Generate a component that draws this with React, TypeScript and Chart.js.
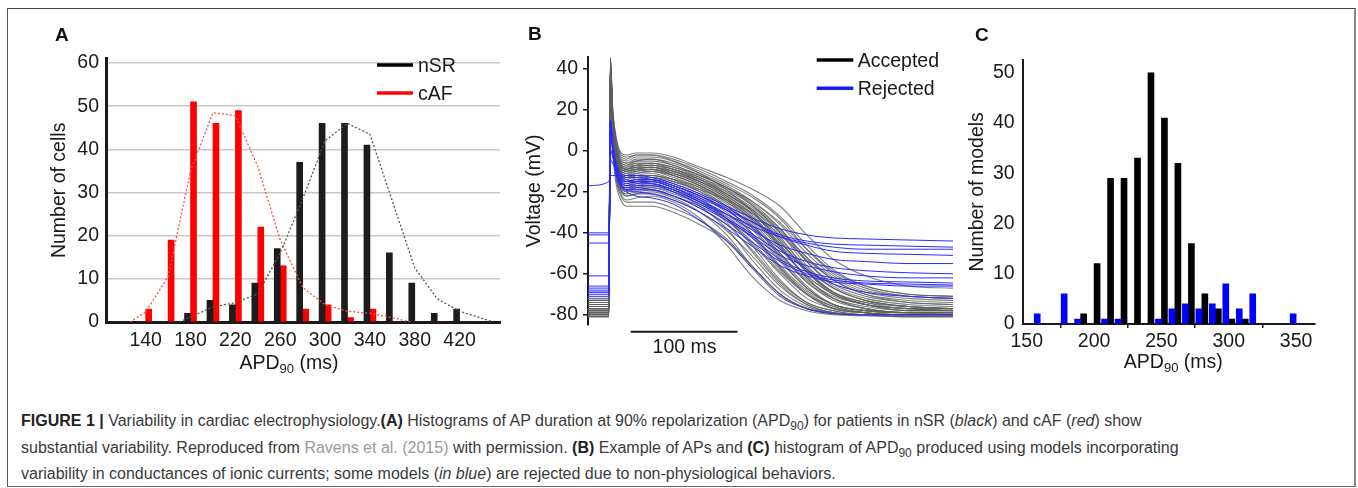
import React, { useEffect, useRef } from "react";
import { Chart, registerables } from "chart.js";

Chart.register(...registerables);

const FONT = "'Liberation Sans', Arial, Helvetica, sans-serif";
const INK = "#1a1a1a";
const FS = 19.5;

// ---------- Panel A: patient APD90 histograms ----------
const binsA = [140, 160, 180, 200, 220, 240, 260, 280, 300, 320, 340, 360, 380, 400, 420];
const nsrCounts = [0, 0, 2, 5, 4, 9, 17, 37, 46, 46, 41, 16, 9, 2, 3];
const cafCounts = [3, 19, 51, 46, 49, 22, 13, 3, 4, 1, 3, 0, 0, 0, 0];
const nsrFitX = [170, 180, 200, 220, 240, 260, 280, 300, 320, 340, 360, 380, 400, 420, 450];
const nsrFitY = [0, 1.2, 3.5, 4.5, 6.5, 16, 28.5, 42, 46, 43.5, 28, 12.5, 5.4, 2.5, 0];
const cafFitX = [126, 140, 160, 180, 200, 220, 240, 260, 280, 300, 320, 340, 360, 376];
const cafFitY = [0, 2.3, 10.5, 35, 48.5, 47.8, 36, 19, 8, 4, 2.5, 2, 1, 0];
const xTicksA = [140, 180, 220, 260, 300, 340, 380, 420];
const yTicksA = [0, 10, 20, 30, 40, 50, 60];

// ---------- Panel B: action potential traces ----------
const apTimes = [0, 19.5, 21, 23, 26, 30, 36, 45, 60, 80, 105, 130, 155, 180, 205, 230, 260, 300, 342];
const acceptedTraces = [
  [-72, -72, 46, 22, 8, 0, -2, -1, -1, -3, -8, -13, -19, -27, -41, -53, -61, -66, -67],
  [-73, -73, 44, 20, 5, -3, -5, -3, -3, -5, -10, -16, -23, -33, -48, -60, -67, -71, -72],
  [-74, -74, 43, 18, 3, -5, -7, -5, -4, -7, -12, -18, -26, -38, -54, -66, -72, -75, -76],
  [-75, -75, 42, 17, 2, -6, -8, -6, -6, -8, -13, -20, -29, -42, -58, -69, -75, -77, -78],
  [-76, -76, 41, 15, 0, -8, -10, -8, -7, -10, -15, -22, -32, -47, -62, -72, -77, -79, -79],
  [-77, -77, 40, 14, -2, -10, -12, -10, -9, -12, -17, -25, -36, -52, -66, -75, -78, -79, -80],
  [-78, -78, 39, 12, -4, -12, -14, -12, -11, -14, -20, -28, -41, -57, -70, -77, -79, -80, -80],
  [-79, -79, 38, 10, -6, -14, -17, -15, -14, -17, -23, -33, -47, -63, -74, -78, -80, -80, -80],
  [-80, -80, 37, 8, -9, -17, -20, -18, -17, -20, -27, -38, -54, -68, -76, -79, -80, -80, -80],
  [-81, -81, 36, 5, -12, -20, -24, -23, -22, -25, -33, -46, -62, -73, -78, -80, -80.5, -81, -81],
  [-80, -80, 35, 3, -15, -23, -27, -27, -27, -30, -36, -44, -57, -70, -77, -79, -80, -80, -80],
  [-74, -74, 45, 21, 6, -2, -4, -2, -2, -5, -11, -19, -30, -46, -62, -72, -77, -79, -79],
  [-78, -78, 40, 13, -3, -11, -13, -12, -12, -15, -19, -24, -31, -41, -53, -63, -70, -74, -75],
  [-77, -77, 41, 14, -1, -9, -11, -9, -8, -11, -16, -23, -33, -45, -58, -67, -73, -76, -77],
  [-79, -79, 38, 9, -7, -15, -18, -16, -15, -18, -24, -33, -45, -59, -70, -76, -79, -80, -80],
  [-76, -76, 42, 16, 1, -7, -9, -7, -6, -9, -14, -21, -30, -43, -57, -67, -73, -76, -77],
  [-75, -75, 43, 17, 2, -6, -8, -7, -7, -9, -13, -19, -27, -38, -52, -63, -70, -73, -74],
  [-80, -80, 37, 7, -10, -18, -21, -20, -19, -22, -28, -36, -49, -64, -74, -78, -80, -80, -80],
  [-78, -78, 39, 11, -5, -13, -15, -14, -13, -16, -21, -29, -39, -54, -67, -75, -78, -79, -79],
  [-77, -77, 40, 13, -2, -10, -12, -11, -10, -13, -18, -26, -37, -50, -63, -71, -75, -77, -78],
  [-79, -79, 38, 10, -8, -16, -19, -17, -16, -19, -25, -35, -50, -65, -75, -79, -80, -80, -80],
  [-76, -76, 41, 15, 0, -8, -10, -9, -8, -11, -15, -21, -29, -40, -54, -65, -71, -74, -75],
  [-73, -73, 44, 19, 4, -4, -6, -4, -4, -6, -11, -17, -25, -36, -50, -61, -68, -71, -72],
  [-81, -81, 36, 6, -11, -19, -22, -21, -20, -23, -30, -41, -57, -70, -77, -79, -80, -81, -81],
  [-79, -79, 39, 12, -4, -12, -15, -13, -12, -14, -19, -27, -38, -53, -67, -75, -78, -79, -79],
  [-75, -75, 42, 16, 1, -7, -9, -8, -8, -10, -15, -22, -31, -44, -59, -69, -74, -76, -77],
  [-80, -80, 37, 8, -8, -16, -19, -18, -18, -21, -26, -34, -46, -60, -72, -77, -79, -80, -80],
  [-77, -77, 40, 13, -3, -11, -13, -11, -10, -12, -17, -24, -34, -48, -61, -70, -75, -78, -78],
  [-74, -74, 44, 19, 4, -4, -6, -5, -5, -7, -12, -18, -27, -40, -56, -67, -73, -76, -77],
  [-76, -76, 42, 16, 1, -7, -9, -8, -8, -10, -14, -20, -28, -39, -52, -62, -69, -72, -73],
  [-78, -78, 40, 12, -3, -11, -13, -13, -13, -15, -20, -27, -37, -51, -64, -72, -76, -78, -78],
  [-79, -79, 38, 10, -7, -15, -18, -17, -17, -19, -24, -31, -42, -57, -69, -76, -79, -80, -80],
  [-77, -77, 41, 14, -1, -9, -11, -10, -9, -12, -17, -24, -35, -50, -64, -73, -77, -79, -79],
  [-75, -75, 43, 18, 3, -5, -7, -6, -6, -8, -12, -18, -25, -35, -48, -59, -66, -70, -71],
  [-80, -80, 36, 6, -10, -18, -22, -21, -21, -24, -30, -39, -52, -66, -75, -79, -80, -80, -80],
  [-78, -78, 39, 11, -5, -13, -16, -15, -14, -17, -22, -30, -41, -56, -68, -75, -78, -79, -79],
  [-76, -76, 41, 15, 0, -8, -10, -9, -9, -11, -16, -23, -33, -47, -61, -70, -75, -77, -78],
  [-79, -79, 37, 9, -8, -16, -19, -19, -18, -20, -25, -32, -43, -58, -70, -77, -79, -80, -80],
  [-73, -73, 45, 21, 7, -1, -3, -2, -2, -4, -9, -15, -22, -32, -46, -58, -66, -70, -71],
  [-81, -81, 35, 4, -13, -21, -25, -25, -25, -28, -34, -43, -57, -70, -77, -79.5, -80, -81, -81],
  [-77, -77, 40, 13, -2, -10, -13, -12, -12, -14, -18, -25, -34, -46, -59, -69, -74, -77, -77],
  [-75, -75, 42, 16, 2, -6, -9, -7, -7, -9, -14, -21, -30, -44, -59, -70, -75, -78, -78],
];
const rejectedTraces = [
  [-40, -40, 15, 5, -5, -10, -12, -12, -13, -16, -21, -27, -33, -38, -41, -42.5, -43, -43.5, -44],
  [-41, -41, -4, -6, -9, -12, -14, -15, -15, -18, -23, -29, -35, -41, -44, -45.5, -46, -46.5, -47],
  [-45, -45, 1, -3, -8, -12, -15, -15, -16, -19, -25, -31, -37, -42, -45, -47, -48, -48, -48],
  [-61, -61, 14, 3, -6, -12, -15, -14, -14, -17, -22, -28, -35, -42, -46, -49, -50, -50.5, -51],
  [-66, -66, 15, 4, -7, -13, -16, -15, -15, -18, -24, -31, -39, -46, -50, -53, -54, -55, -55],
  [-67, -67, 13, 2, -8, -14, -17, -17, -17, -20, -26, -33, -41, -49, -54, -57, -58.5, -59.5, -60],
  [-68, -68, 12, 1, -9, -15, -18, -18, -19, -22, -27, -34, -42, -51, -56, -59, -61, -62, -62],
  [-69, -69, 14, 2, -8, -14, -17, -16, -16, -19, -25, -33, -43, -53, -59, -62, -63.5, -64, -64.5],
  [-70, -70, 11, 0, -10, -16, -19, -19, -19, -22, -28, -36, -45, -54, -60, -63, -64.5, -65, -65.5],
  [-71, -71, 15, 3, -8, -15, -19, -20, -21, -24, -30, -38, -47, -56, -61, -64, -65, -66, -66],
  [-69, -69, 15, 2, -10, -17, -20, -22, -23, -26, -34, -44, -58, -71, -77, -79.5, -80, -80, -80],
  [-17, -15, -12, -12, -12, -12, -13, -13, -14, -17, -22, -29, -38, -48, -58, -65, -69, -71, -72],
];
const voltageTicks = [40, 20, 0, -20, -40, -60, -80];
const scaleBarStart = 40;
const scaleBarLength = 100;

// ---------- Panel C: model APD90 histograms ----------
const acceptedBins = [190, 200, 210, 220, 230, 240, 250, 260, 270, 280, 290, 300, 310];
const acceptedCounts = [2, 12, 29, 29, 33, 50, 41, 32, 16, 6, 3, 1, 1];
const rejectedBins = [160, 180, 190, 210, 220, 250, 260, 270, 280, 290, 300, 310, 320, 350];
const rejectedCounts = [2, 6, 1, 1, 1, 1, 3, 4, 3, 4, 8, 3, 6, 2];
const xTicksC = [150, 200, 250, 300, 350];
const yTicksC = [0, 10, 20, 30, 40, 50];

Chart.defaults.font.family = FONT;
Chart.defaults.color = INK;

function pts(xs: number[], ys: number[]) {
  return xs.map((x, i) => ({ x, y: ys[i] }));
}

function drawApdTitle(ctx: CanvasRenderingContext2D, cx: number, baseline: number) {
  const big = `${FS}px ${FONT}`;
  const small = `13px ${FONT}`;
  ctx.save();
  ctx.fillStyle = INK;
  ctx.textAlign = "left";
  ctx.textBaseline = "alphabetic";
  ctx.font = big;
  const w1 = ctx.measureText("APD").width;
  const w3 = ctx.measureText(" (ms)").width;
  ctx.font = small;
  const w2 = ctx.measureText("90").width;
  let x = cx - (w1 + w2 + w3) / 2;
  ctx.font = big;
  ctx.fillText("APD", x, baseline);
  x += w1;
  ctx.font = small;
  ctx.fillText("90", x, baseline + 4);
  x += w2;
  ctx.font = big;
  ctx.fillText(" (ms)", x, baseline);
  ctx.restore();
}

function drawLegend(
  ctx: CanvasRenderingContext2D,
  items: { label: string; color: string; y: number }[],
  x0: number,
  x1: number,
  tx: number
) {
  ctx.save();
  ctx.font = `${FS}px ${FONT}`;
  ctx.textBaseline = "alphabetic";
  ctx.textAlign = "left";
  for (const it of items) {
    ctx.strokeStyle = it.color;
    ctx.lineWidth = 3.5;
    ctx.beginPath();
    ctx.moveTo(x0, it.y);
    ctx.lineTo(x1, it.y);
    ctx.stroke();
    ctx.fillStyle = INK;
    ctx.fillText(it.label, tx, it.y + 7);
  }
  ctx.restore();
}

function setTicks(values: number[]) {
  return (scale: any) => {
    scale.ticks = values.map((v) => ({ value: v }));
  };
}

function useChart(ref: React.RefObject<HTMLCanvasElement | null>, make: () => any) {
  useEffect(() => {
    if (!ref.current) return;
    const chart = new Chart(ref.current, make());
    return () => chart.destroy();
  }, []);
}

function configA() {
  return {
    type: "bar",
    data: {
      datasets: [
        {
          type: "line",
          data: pts(nsrFitX, nsrFitY),
          borderColor: "#555555",
          borderWidth: 1.3,
          borderDash: [2, 2],
          pointRadius: 0,
          tension: 0,
          order: 0,
        },
        {
          type: "line",
          data: pts(cafFitX, cafFitY),
          borderColor: "#ff4d4d",
          borderWidth: 1.3,
          borderDash: [2, 2],
          pointRadius: 0,
          tension: 0,
          order: 0,
        },
        {
          type: "bar",
          label: "nSR",
          data: pts(binsA, nsrCounts),
          backgroundColor: "#1c1c1c",
          barThickness: 6,
          order: 1,
        },
        {
          type: "bar",
          label: "cAF",
          data: pts(binsA, cafCounts),
          backgroundColor: "#ff0000",
          barThickness: 6,
          order: 1,
        },
      ],
    },
    options: {
      responsive: false,
      animation: false,
      layout: { padding: { top: 13.9, right: 10, bottom: 0, left: 0 } },
      plugins: { legend: { display: false }, tooltip: { enabled: false } },
      scales: {
        x: {
          type: "linear",
          min: 104.6,
          max: 456,
          offset: false,
          afterBuildTicks: setTicks(xTicksA),
          afterFit: (s: any) => {
            s.height = 58;
          },
          grid: { display: false, drawTicks: false },
          border: { color: INK, width: 3 },
          ticks: { padding: 7, autoSkip: false, maxRotation: 0, color: INK, font: { size: FS } },
        },
        y: {
          min: 0,
          max: 61,
          afterBuildTicks: setTicks(yTicksA),
          afterFit: (s: any) => {
            s.width = 66;
          },
          grid: { color: "#c8c8c8", lineWidth: 1.5, drawTicks: false },
          border: { color: INK, width: 3 },
          ticks: { padding: 7, autoSkip: false, color: INK, font: { size: FS } },
          title: {
            display: true,
            text: "Number of cells",
            color: INK,
            font: { size: FS },
            padding: { top: 8, bottom: 0 },
          },
        },
      },
    },
    plugins: [
      {
        id: "decorA",
        afterDraw(chart: any) {
          const ctx = chart.ctx;
          drawLegend(
            ctx,
            [
              { label: "nSR", color: "#000000", y: 25 },
              { label: "cAF", color: "#ff0000", y: 53 },
            ],
            337,
            373,
            378
          );
          drawApdTitle(ctx, 249, 329);
        },
      },
    ],
  };
}

function configB() {
  const mk = (tr: number[], color: string, width: number, order: number) => ({
    data: pts(apTimes, tr),
    borderColor: color,
    borderWidth: width,
    pointRadius: 0,
    cubicInterpolationMode: "monotone",
    order,
  });
  return {
    type: "line",
    data: {
      datasets: [
        ...rejectedTraces.map((tr) => mk(tr, "#2b2bff", 1, 0)),
        ...acceptedTraces.map((tr) => mk(tr, "rgba(95,95,95,0.8)", 1.1, 1)),
      ],
    },
    options: {
      responsive: false,
      animation: false,
      layout: { padding: { top: 16.7, right: 7, bottom: 55, left: 0 } },
      plugins: { legend: { display: false }, tooltip: { enabled: false } },
      scales: {
        x: { type: "linear", min: 0, max: 342, display: false },
        y: {
          min: -85,
          max: 46,
          afterBuildTicks: setTicks(voltageTicks),
          afterFit: (s: any) => {
            s.width = 78;
          },
          grid: { drawOnChartArea: false, drawTicks: true, tickLength: 5, color: INK, lineWidth: 1.5 },
          border: { color: INK, width: 2 },
          ticks: { padding: 5, autoSkip: false, color: INK, font: { size: FS } },
          title: {
            display: true,
            text: "Voltage (mV)",
            color: INK,
            font: { size: FS },
            padding: { top: 13, bottom: 0 },
          },
        },
      },
    },
    plugins: [
      {
        id: "decorB",
        afterDraw(chart: any) {
          const ctx = chart.ctx;
          const xs = chart.scales.x;
          const x0 = xs.getPixelForValue(scaleBarStart);
          const x1 = xs.getPixelForValue(scaleBarStart + scaleBarLength);
          const y = chart.chartArea.bottom + 6.7;
          ctx.save();
          ctx.strokeStyle = INK;
          ctx.lineWidth = 2;
          ctx.beginPath();
          ctx.moveTo(x0, y);
          ctx.lineTo(x1, y);
          ctx.stroke();
          ctx.font = `${FS}px ${FONT}`;
          ctx.fillStyle = INK;
          ctx.textAlign = "center";
          ctx.textBaseline = "alphabetic";
          ctx.fillText(`${scaleBarLength} ms`, (x0 + x1) / 2 + 0.5, 313.3);
          ctx.restore();
          drawLegend(
            ctx,
            [
              { label: "Accepted", color: "#000000", y: 20 },
              { label: "Rejected", color: "#1a1aff", y: 48.3 },
            ],
            306.7,
            343.3,
            347.7
          );
        },
      },
    ],
  };
}

function configC() {
  return {
    type: "bar",
    data: {
      datasets: [
        {
          label: "Rejected",
          data: pts(rejectedBins, rejectedCounts),
          backgroundColor: "#0000ff",
          barThickness: 6,
        },
        {
          label: "Accepted",
          data: pts(acceptedBins, acceptedCounts),
          backgroundColor: "#000000",
          barThickness: 6,
        },
      ],
    },
    options: {
      responsive: false,
      animation: false,
      layout: { padding: { top: 16.7, right: 35, bottom: 0, left: 0 } },
      plugins: { legend: { display: false }, tooltip: { enabled: false } },
      scales: {
        x: {
          type: "linear",
          min: 147,
          max: 364,
          offset: false,
          afterBuildTicks: setTicks(xTicksC),
          afterFit: (s: any) => {
            s.height = 56;
          },
          grid: { drawOnChartArea: false, drawTicks: true, tickLength: 4, color: INK, lineWidth: 1.5 },
          border: { color: INK, width: 2 },
          ticks: { padding: 2, autoSkip: false, maxRotation: 0, color: INK, font: { size: FS } },
        },
        y: {
          min: 0,
          max: 52.6,
          afterBuildTicks: setTicks(yTicksC),
          afterFit: (s: any) => {
            s.width = 72.7;
          },
          grid: { drawOnChartArea: false, drawTicks: false },
          border: { color: INK, width: 2 },
          ticks: { padding: 8, autoSkip: false, color: INK, font: { size: FS } },
          title: {
            display: true,
            text: "Number of models",
            color: INK,
            font: { size: FS },
            padding: { top: 16, bottom: 0 },
          },
        },
      },
    },
    plugins: [
      {
        id: "decorC",
        afterDraw(chart: any) {
          drawApdTitle(chart.ctx, 223.3, 328);
        },
      },
    ],
  };
}

const abs = (left: number, top: number, extra: React.CSSProperties = {}): React.CSSProperties => ({
  position: "absolute",
  left,
  top,
  ...extra,
});

const letterStyle: React.CSSProperties = {
  fontFamily: FONT,
  fontWeight: 700,
  fontSize: 19,
  lineHeight: "19px",
  color: "#111",
};

const sub: React.CSSProperties = { fontSize: 12, position: "relative", top: 4, lineHeight: 0 };
const capLine: React.CSSProperties = {
  position: "absolute",
  left: 21,
  whiteSpace: "nowrap",
  fontFamily: FONT,
  fontSize: 16,
  lineHeight: "26.7px",
  color: "#3a3a3a",
};

export default function App() {
  const refA = useRef<HTMLCanvasElement>(null);
  const refB = useRef<HTMLCanvasElement>(null);
  const refC = useRef<HTMLCanvasElement>(null);
  useChart(refA, configA);
  useChart(refB, configB);
  useChart(refC, configC);

  return (
    <div style={{ position: "absolute", left: 0, top: 0, width: 1358, height: 488, background: "#fff", overflow: "hidden" }}>
      <div
        style={abs(7, 8, {
          width: 1346,
          height: 477,
          borderTop: "1px solid #444",
          borderLeft: "1px solid #555",
          borderRight: "2px solid #888",
          borderBottom: "1px solid #666",
        })}
      />
      <canvas ref={refA} width={470} height={340} style={abs(40, 40, { width: 470, height: 340 })} />
      <canvas ref={refB} width={450} height={340} style={abs(510, 40, { width: 450, height: 340 })} />
      <canvas ref={refC} width={400} height={340} style={abs(950, 40, { width: 400, height: 340 })} />
      <div style={{ ...abs(55, 25), ...letterStyle }}>A</div>
      <div style={{ ...abs(528, 24), ...letterStyle }}>B</div>
      <div style={{ ...abs(975, 24.5), ...letterStyle }}>C</div>

      <div style={{ ...capLine, top: 408 }}>
        <b style={{ color: "#222" }}>FIGURE 1 |</b> Variability in cardiac electrophysiology.<b style={{ color: "#222" }}>(A)</b> Histograms
        of AP duration at 90% repolarization (APD<span style={sub}>90</span>) for patients in nSR (<i>black</i>) and cAF (
        <i>red</i>) show
      </div>
      <div style={{ ...capLine, top: 434.7 }}>
        substantial variability. Reproduced from <span style={{ color: "#9a9a9a" }}>Ravens et al. (2015)</span> with
        permission. <b style={{ color: "#222" }}>(B)</b> Example of APs and <b style={{ color: "#222" }}>(C)</b> histogram of
        APD<span style={sub}>90</span> produced using models incorporating
      </div>
      <div style={{ ...capLine, top: 461.4 }}>
        variability in conductances of ionic currents; some models (<i>in blue</i>) are rejected due to non-physiological
        behaviors.
      </div>
    </div>
  );
}
